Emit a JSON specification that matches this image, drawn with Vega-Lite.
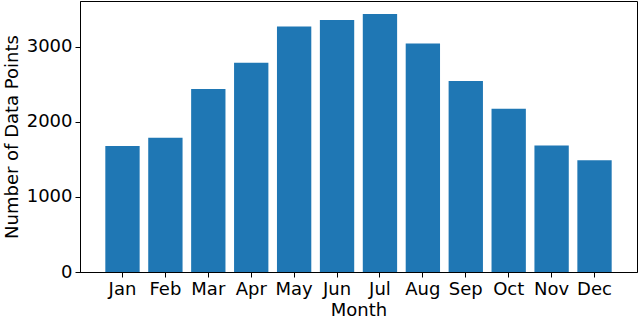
{
  "$schema": "https://vega.github.io/schema/vega-lite/v6.json",
  "width": 557,
  "height": 271,
  "autosize": {"type": "none"},
  "padding": {"left": 80, "top": 1, "right": 3, "bottom": 48},
  "data": {
    "values": [
      {"month": "Jan", "count": 1680},
      {"month": "Feb", "count": 1790},
      {"month": "Mar", "count": 2437},
      {"month": "Apr", "count": 2787},
      {"month": "May", "count": 3271},
      {"month": "Jun", "count": 3359},
      {"month": "Jul", "count": 3439},
      {"month": "Aug", "count": 3045},
      {"month": "Sep", "count": 2544},
      {"month": "Oct", "count": 2176},
      {"month": "Nov", "count": 1684},
      {"month": "Dec", "count": 1489}
    ]
  },
  "mark": {"type": "bar", "color": "#1f77b4"},
  "encoding": {
    "x": {
      "field": "month",
      "type": "nominal",
      "sort": null,
      "scale": {"paddingInner": 0.2, "paddingOuter": 0.59},
      "axis": {"title": "Month", "labelAngle": 0, "titlePadding": 3}
    },
    "y": {
      "field": "count",
      "type": "quantitative",
      "scale": {"domain": [0, 3611], "nice": false},
      "axis": {
        "title": "Number of Data Points",
        "values": [0, 1000, 2000, 3000],
        "format": "d",
        "titlePadding": 5
      }
    }
  },
  "config": {
    "view": {"stroke": "black", "strokeWidth": 1},
    "axis": {
      "grid": false,
      "domainColor": "black",
      "domainWidth": 1,
      "tickColor": "black",
      "tickWidth": 1,
      "tickSize": 5,
      "labelPadding": 3,
      "labelColor": "black",
      "titleColor": "black",
      "labelFont": "DejaVu Sans",
      "titleFont": "DejaVu Sans",
      "labelFontSize": 18,
      "titleFontSize": 18,
      "titleFontWeight": "normal"
    }
  }
}
